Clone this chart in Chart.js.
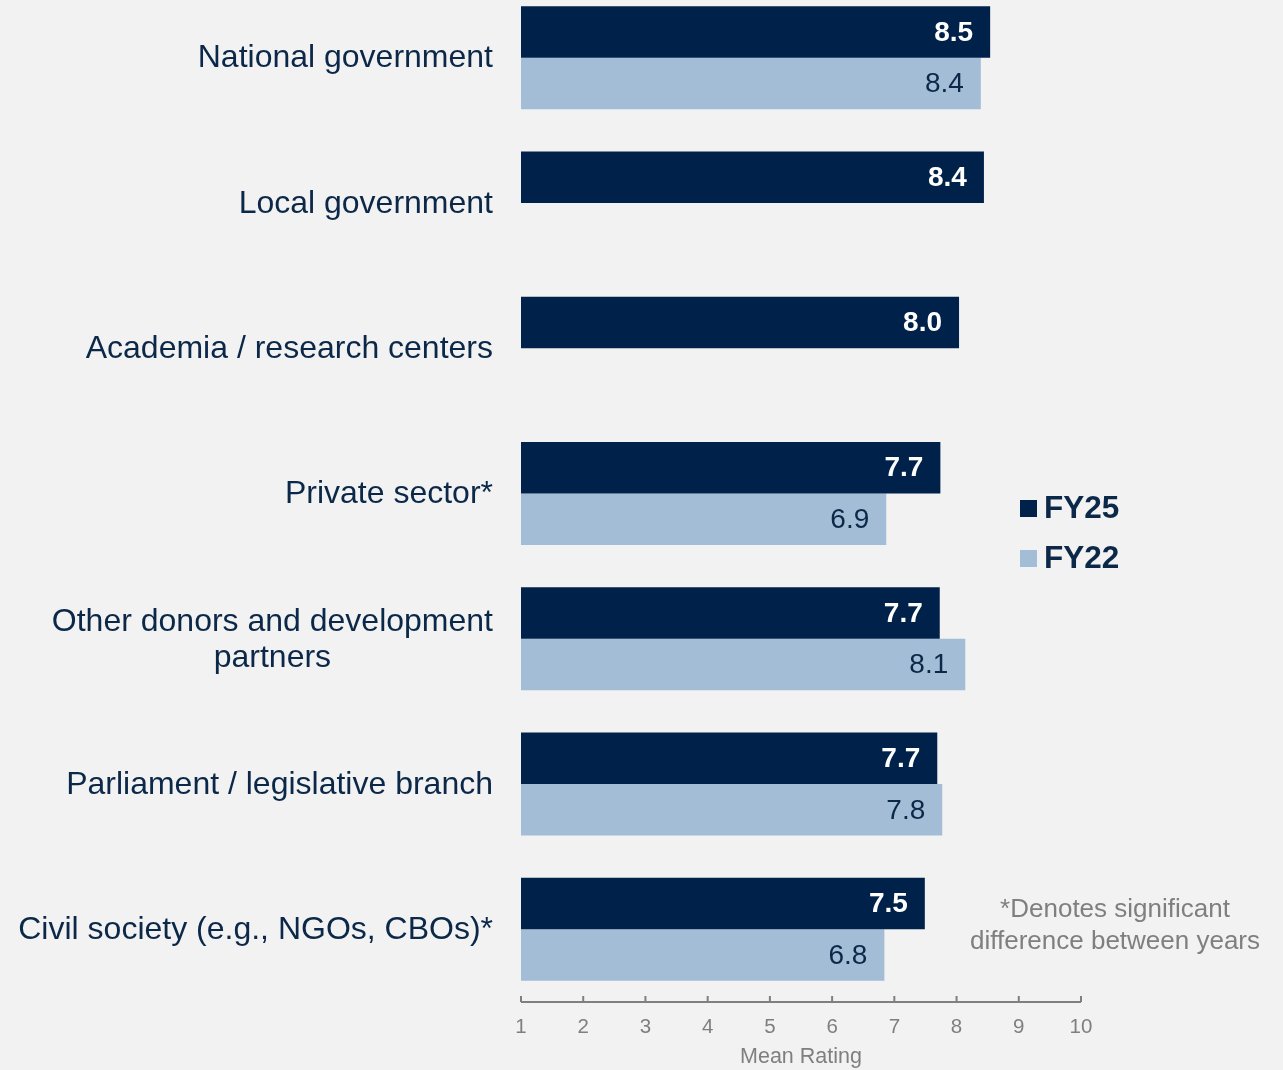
<!DOCTYPE html>
<html>
<head>
<meta charset="utf-8">
<script src="https://cdn.jsdelivr.net/npm/chart.js@4/dist/chart.umd.min.js"></script>
<style>
  body { margin: 0; background: #F2F2F2; }
  #wrap { position: relative; width: 1283px; height: 1070px; overflow: hidden; background: #F2F2F2; }
  #chart { position: absolute; left: 0; top: -15px; }
</style>
</head>
<body>
<div id="wrap"><canvas id="chart" width="1283" height="1085"></canvas></div>
<script>
/* values, labels show them rounded to one decimal */
const categories = [
  "National government",
  "Local government",
  "Academia / research centers",
  "Private sector*",
  ["Other donors and development", "partners"],
  "Parliament / legislative branch",
  "Civil society (e.g., NGOs, CBOs)*"
];
const fy25 = [8.54, 8.44, 8.04, 7.74, 7.73, 7.69, 7.49];
const fy22 = [8.39, null, null, 6.87, 8.14, 7.77, 6.84];
const seriesNames = ["FY25", "FY22"];
const xMin = 1;
const xMax = 10;
const axisTitle = "Mean Rating";
const noteLines = ["*Denotes significant", "difference between years"];

const navy = "#00224A";
const light = "#A3BDD6";
const textNavy = "#0C2848";
const gray = "#7F7F7F";
const font = "'Liberation Sans', Arial, sans-serif";

// category labels, bar values, legend, note and the axis line with inner ticks
const extras = {
  id: "extras",
  afterDatasetsDraw(chart) {
    const ctx = chart.ctx;
    const y = chart.scales.y;
    const x = chart.scales.x;
    const area = chart.chartArea;
    ctx.save();

    // bar value labels
    chart.data.datasets.forEach((ds, di) => {
      const meta = chart.getDatasetMeta(di);
      meta.data.forEach((bar, i) => {
        if (ds.data[i] == null) return;
        ctx.font = (di === 0 ? "bold " : "") + "28px " + font;
        ctx.fillStyle = di === 0 ? "#FFFFFF" : textNavy;
        ctx.textAlign = "right";
        ctx.textBaseline = "middle";
        ctx.fillText(ds.data[i].toFixed(1), bar.x - 17, bar.y + 1);
      });
    });

    // category labels, right aligned block, lines centred inside
    ctx.font = "32px " + font;
    ctx.fillStyle = textNavy;
    ctx.textBaseline = "middle";
    ctx.textAlign = "center";
    categories.forEach((lab, i) => {
      const lines = Array.isArray(lab) ? lab : [lab];
      const w = Math.max(...lines.map(l => ctx.measureText(l).width));
      const cx = 493 - w / 2;
      const cy = y.getPixelForValue(i) + 1;
      const lh = 36;
      lines.forEach((l, k) => {
        ctx.fillText(l, cx, cy + (k - (lines.length - 1) / 2) * lh);
      });
    });

    // axis line and ticks pointing up
    const base = area.bottom;
    ctx.strokeStyle = gray;
    ctx.lineWidth = 2;
    ctx.beginPath();
    ctx.moveTo(x.getPixelForValue(xMin), base);
    ctx.lineTo(x.getPixelForValue(xMax), base);
    for (let v = xMin; v <= xMax; v++) {
      const px = x.getPixelForValue(v);
      ctx.moveTo(px, base);
      ctx.lineTo(px, base - 6);
    }
    ctx.stroke();

    // legend
    const colors = [navy, light];
    seriesNames.forEach((name, k) => {
      const ly = 523 + k * 50;
      ctx.fillStyle = colors[k];
      ctx.fillRect(1020, ly - 8, 17, 17);
      ctx.fillStyle = textNavy;
      ctx.font = "bold 31.5px " + font;
      ctx.textAlign = "left";
      ctx.fillText(name, 1044, ly + 1);
    });

    // note
    ctx.fillStyle = gray;
    ctx.font = "26px " + font;
    ctx.textAlign = "center";
    noteLines.forEach((l, k) => {
      ctx.fillText(l, 1115, 925 + k * 32);
    });

    ctx.restore();
  }
};

new Chart(document.getElementById("chart"), {
  type: "bar",
  data: {
    labels: categories,
    datasets: [
      { label: seriesNames[0], data: fy25, backgroundColor: navy },
      { label: seriesNames[1], data: fy22, backgroundColor: light }
    ]
  },
  options: {
    indexAxis: "y",
    responsive: false,
    animation: false,
    events: [],
    categoryPercentage: 0.709,
    barPercentage: 1,
    layout: { padding: { left: 521, right: 202, top: 0, bottom: 0 } },
    plugins: {
      legend: { display: false },
      tooltip: { enabled: false }
    },
    scales: {
      y: { display: false },
      x: {
        min: xMin,
        max: xMax,
        grid: { display: false, drawTicks: false },
        border: { display: false },
        ticks: {
          stepSize: 1,
          padding: 13,
          color: gray,
          font: { family: font, size: 20.5 }
        },
        title: {
          display: true,
          text: axisTitle,
          color: gray,
          padding: 0,
          font: { family: font, size: 21.5 }
        },
        afterFit(scale) {
          scale.height = 68;
        }
      }
    }
  },
  plugins: [extras]
});
</script>
</body>
</html>
